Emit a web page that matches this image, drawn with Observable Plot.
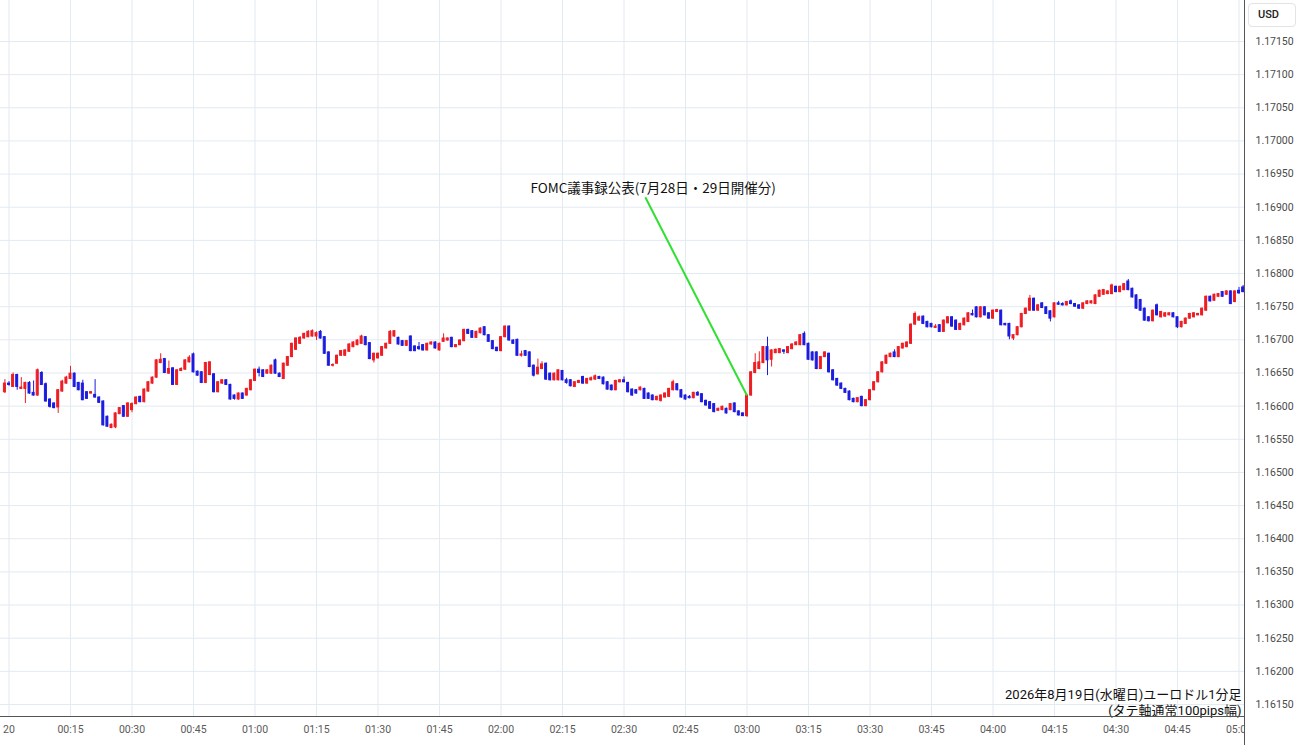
<!DOCTYPE html>
<html>
<head>
<meta charset="utf-8">
<script src="https://cdn.jsdelivr.net/npm/d3@7"></script>
<script src="https://cdn.jsdelivr.net/npm/@observablehq/plot@0.6"></script>
<style>
  html, body { margin: 0; padding: 0; background: #fff; }
  #wrap { position: relative; width: 1300px; height: 745px; overflow: hidden; background: #fff; }
  #wrap svg { position: absolute; left: 0; top: 0; }
  .usd { position: absolute; left: 1248px; top: 3px; width: 48px; height: 24px; box-sizing: border-box;
         border: 1px solid #e3e3e3; border-radius: 4px; font: 500 11px Roboto, sans-serif; color: #222;
         line-height: 22px; padding-left: 9px; background: #fff; }
</style>
</head>
<body>
<div id="wrap"><div class="usd">USD</div></div>
<script>
// EUR/USD 1-minute candles, 19 Aug 2026, first candle = 23:59 (minute -1), then one per minute to 05:01
const firstMinute = -1;

const open = [
1.16621,1.16634,1.16629,1.16647,1.16626,1.16626,1.16635,1.16620,1.16616,1.16650,
1.16633,1.16610,1.16604,1.16598,1.16622,1.16634,1.16641,1.16649,1.16635,1.16634,
1.16621,1.16619,1.16617,1.16613,1.16607,1.16584,1.16567,1.16568,1.16588,1.16600,
1.16584,1.16594,1.16603,1.16614,1.16606,1.16622,1.16634,1.16643,1.16665,1.16671,
1.16649,1.16657,1.16632,1.16653,1.16655,1.16666,1.16678,1.16652,1.16651,1.16635,
1.16647,1.16648,1.16621,1.16634,1.16639,1.16632,1.16616,1.16610,1.16619,1.16616,
1.16624,1.16638,1.16655,1.16654,1.16649,1.16649,1.16669,1.16649,1.16641,1.16661,
1.16674,1.16685,1.16694,1.16702,1.16704,1.16705,1.16705,1.16712,1.16704,1.16681,
1.16661,1.16664,1.16676,1.16676,1.16682,1.16689,1.16692,1.16694,1.16704,1.16695,
1.16669,1.16672,1.16676,1.16687,1.16694,1.16705,1.16703,1.16698,1.16691,1.16705,
1.16690,1.16689,1.16692,1.16684,1.16693,1.16696,1.16684,1.16697,1.16699,1.16703,
1.16689,1.16692,1.16698,1.16715,1.16713,1.16703,1.16710,1.16719,1.16707,1.16698,
1.16688,1.16683,1.16704,1.16720,1.16699,1.16700,1.16676,1.16683,1.16681,1.16661,
1.16648,1.16656,1.16664,1.16649,1.16639,1.16639,1.16653,1.16639,1.16639,1.16629,
1.16635,1.16644,1.16634,1.16639,1.16640,1.16644,1.16643,1.16636,1.16631,1.16624,
1.16636,1.16639,1.16635,1.16625,1.16624,1.16624,1.16626,1.16619,1.16616,1.16609,
1.16608,1.16613,1.16614,1.16624,1.16633,1.16624,1.16616,1.16614,1.16612,1.16620,
1.16618,1.16608,1.16606,1.16603,1.16593,1.16594,1.16596,1.16594,1.16604,1.16592,
1.16589,1.16585,1.16616,1.16650,1.16656,1.16665,1.16689,1.16670,1.16680,1.16680,
1.16684,1.16680,1.16686,1.16692,1.16692,1.16709,1.16694,1.16681,1.16681,1.16656,
1.16674,1.16679,1.16654,1.16641,1.16634,1.16626,1.16622,1.16611,1.16606,1.16614,
1.16600,1.16609,1.16624,1.16636,1.16651,1.16664,1.16674,1.16681,1.16674,1.16687,
1.16689,1.16694,1.16723,1.16729,1.16735,1.16727,1.16724,1.16718,1.16722,1.16712,
1.16725,1.16734,1.16729,1.16715,1.16722,1.16727,1.16739,1.16749,1.16734,1.16749,
1.16740,1.16732,1.16742,1.16744,1.16724,1.16724,1.16702,1.16707,1.16719,1.16739,
1.16744,1.16762,1.16744,1.16755,1.16749,1.16743,1.16734,1.16755,1.16754,1.16752,
1.16758,1.16754,1.16752,1.16747,1.16754,1.16755,1.16754,1.16765,1.16768,1.16769,
1.16769,1.16780,1.16772,1.16775,1.16788,1.16777,1.16767,1.16760,1.16747,1.16734,
1.16728,1.16752,1.16734,1.16735,1.16737,1.16740,1.16734,1.16719,1.16724,1.16732,
1.16734,1.16737,1.16737,1.16744,1.16765,1.16759,1.16765,1.16772,1.16768,1.16773,
1.16757,1.16774,1.16779
];

const high = [
1.16640,1.16637,1.16650,1.16648,1.16643,1.16636,1.16637,1.16638,1.16656,1.16652,
1.16635,1.16611,1.16605,1.16625,1.16639,1.16645,1.16660,1.16650,1.16636,1.16639,
1.16622,1.16622,1.16640,1.16614,1.16608,1.16585,1.16573,1.16590,1.16598,1.16601,
1.16605,1.16605,1.16614,1.16615,1.16626,1.16637,1.16644,1.16670,1.16679,1.16672,
1.16668,1.16658,1.16655,1.16658,1.16670,1.16676,1.16680,1.16653,1.16652,1.16666,
1.16667,1.16649,1.16637,1.16640,1.16640,1.16633,1.16617,1.16620,1.16620,1.16627,
1.16640,1.16656,1.16659,1.16655,1.16655,1.16662,1.16671,1.16650,1.16665,1.16675,
1.16695,1.16703,1.16705,1.16710,1.16714,1.16715,1.16712,1.16714,1.16705,1.16682,
1.16664,1.16677,1.16684,1.16685,1.16694,1.16697,1.16700,1.16707,1.16705,1.16696,
1.16680,1.16680,1.16690,1.16695,1.16714,1.16714,1.16704,1.16699,1.16699,1.16706,
1.16691,1.16696,1.16693,1.16695,1.16697,1.16697,1.16695,1.16709,1.16703,1.16704,
1.16693,1.16700,1.16716,1.16716,1.16714,1.16713,1.16718,1.16720,1.16708,1.16699,
1.16689,1.16705,1.16721,1.16721,1.16700,1.16701,1.16683,1.16684,1.16682,1.16662,
1.16671,1.16667,1.16665,1.16650,1.16650,1.16655,1.16654,1.16642,1.16640,1.16637,
1.16639,1.16645,1.16642,1.16644,1.16647,1.16645,1.16644,1.16637,1.16632,1.16639,
1.16640,1.16644,1.16636,1.16626,1.16625,1.16629,1.16627,1.16620,1.16617,1.16615,
1.16617,1.16620,1.16627,1.16639,1.16634,1.16625,1.16617,1.16616,1.16621,1.16622,
1.16619,1.16609,1.16607,1.16604,1.16597,1.16600,1.16597,1.16604,1.16605,1.16593,
1.16590,1.16616,1.16652,1.16679,1.16682,1.16690,1.16704,1.16685,1.16686,1.16687,
1.16685,1.16690,1.16694,1.16697,1.16708,1.16712,1.16695,1.16682,1.16682,1.16675,
1.16682,1.16680,1.16655,1.16642,1.16635,1.16627,1.16623,1.16612,1.16613,1.16615,
1.16610,1.16625,1.16637,1.16652,1.16667,1.16677,1.16680,1.16685,1.16690,1.16695,
1.16697,1.16724,1.16742,1.16736,1.16736,1.16728,1.16725,1.16723,1.16723,1.16730,
1.16735,1.16735,1.16730,1.16725,1.16733,1.16741,1.16745,1.16750,1.16750,1.16750,
1.16741,1.16745,1.16746,1.16745,1.16725,1.16725,1.16708,1.16720,1.16740,1.16748,
1.16767,1.16763,1.16753,1.16756,1.16750,1.16744,1.16756,1.16758,1.16756,1.16758,
1.16760,1.16755,1.16753,1.16756,1.16759,1.16759,1.16768,1.16775,1.16776,1.16774,
1.16784,1.16781,1.16781,1.16785,1.16791,1.16778,1.16768,1.16761,1.16748,1.16735,
1.16745,1.16754,1.16743,1.16741,1.16741,1.16741,1.16735,1.16728,1.16733,1.16740,
1.16741,1.16740,1.16748,1.16766,1.16766,1.16769,1.16770,1.16773,1.16774,1.16774,
1.16774,1.16779,1.16782
];

const low = [
1.16619,1.16630,1.16628,1.16624,1.16625,1.16604,1.16618,1.16615,1.16615,1.16631,
1.16606,1.16597,1.16596,1.16589,1.16621,1.16633,1.16640,1.16628,1.16623,1.16608,
1.16610,1.16618,1.16612,1.16604,1.16570,1.16568,1.16566,1.16566,1.16587,1.16583,
1.16583,1.16590,1.16602,1.16605,1.16605,1.16621,1.16633,1.16642,1.16664,1.16649,
1.16648,1.16631,1.16631,1.16652,1.16654,1.16665,1.16650,1.16645,1.16634,1.16634,
1.16646,1.16620,1.16620,1.16633,1.16631,1.16609,1.16609,1.16609,1.16610,1.16615,
1.16623,1.16637,1.16644,1.16643,1.16648,1.16648,1.16648,1.16643,1.16640,1.16660,
1.16673,1.16684,1.16693,1.16701,1.16703,1.16704,1.16699,1.16701,1.16678,1.16660,
1.16659,1.16663,1.16675,1.16675,1.16681,1.16688,1.16691,1.16693,1.16691,1.16670,
1.16665,1.16671,1.16675,1.16686,1.16693,1.16704,1.16692,1.16690,1.16690,1.16682,
1.16682,1.16684,1.16683,1.16683,1.16692,1.16686,1.16683,1.16696,1.16698,1.16688,
1.16688,1.16691,1.16697,1.16708,1.16702,1.16702,1.16709,1.16706,1.16696,1.16685,
1.16682,1.16682,1.16703,1.16698,1.16693,1.16675,1.16674,1.16675,1.16658,1.16644,
1.16647,1.16655,1.16639,1.16638,1.16638,1.16638,1.16638,1.16633,1.16629,1.16628,
1.16634,1.16633,1.16633,1.16638,1.16639,1.16640,1.16632,1.16624,1.16623,1.16623,
1.16635,1.16635,1.16620,1.16615,1.16618,1.16623,1.16610,1.16610,1.16608,1.16608,
1.16606,1.16612,1.16613,1.16623,1.16623,1.16612,1.16609,1.16611,1.16611,1.16615,
1.16605,1.16600,1.16595,1.16590,1.16592,1.16593,1.16588,1.16593,1.16590,1.16585,
1.16584,1.16583,1.16615,1.16649,1.16655,1.16664,1.16646,1.16659,1.16679,1.16679,
1.16678,1.16679,1.16685,1.16691,1.16691,1.16691,1.16669,1.16668,1.16655,1.16655,
1.16673,1.16650,1.16638,1.16630,1.16625,1.16619,1.16608,1.16605,1.16605,1.16599,
1.16599,1.16608,1.16623,1.16635,1.16650,1.16663,1.16673,1.16673,1.16673,1.16686,
1.16688,1.16693,1.16722,1.16728,1.16723,1.16718,1.16718,1.16717,1.16711,1.16711,
1.16724,1.16719,1.16714,1.16714,1.16721,1.16726,1.16736,1.16733,1.16733,1.16736,
1.16731,1.16731,1.16741,1.16721,1.16721,1.16700,1.16699,1.16706,1.16718,1.16738,
1.16743,1.16743,1.16743,1.16747,1.16738,1.16727,1.16733,1.16752,1.16751,1.16751,
1.16753,1.16749,1.16746,1.16746,1.16753,1.16754,1.16753,1.16764,1.16767,1.16768,
1.16768,1.16771,1.16771,1.16774,1.16774,1.16763,1.16746,1.16743,1.16728,1.16727,
1.16727,1.16736,1.16733,1.16734,1.16736,1.16733,1.16717,1.16718,1.16723,1.16731,
1.16733,1.16736,1.16736,1.16743,1.16757,1.16758,1.16764,1.16764,1.16767,1.16753,
1.16756,1.16769,1.16771
];

const close = [
1.16634,1.16632,1.16647,1.16629,1.16628,1.16635,1.16619,1.16616,1.16654,1.16632,
1.16607,1.16599,1.16597,1.16624,1.16637,1.16643,1.16649,1.16629,1.16624,1.16609,
1.16611,1.16621,1.16613,1.16605,1.16571,1.16569,1.16572,1.16589,1.16597,1.16584,
1.16604,1.16603,1.16613,1.16606,1.16625,1.16636,1.16643,1.16669,1.16670,1.16650,
1.16656,1.16632,1.16654,1.16656,1.16669,1.16673,1.16651,1.16646,1.16635,1.16665,
1.16666,1.16621,1.16636,1.16639,1.16632,1.16610,1.16611,1.16619,1.16611,1.16626,
1.16639,1.16655,1.16650,1.16644,1.16654,1.16661,1.16649,1.16644,1.16664,1.16674,
1.16694,1.16702,1.16703,1.16709,1.16712,1.16713,1.16710,1.16702,1.16679,1.16661,
1.16662,1.16676,1.16683,1.16684,1.16693,1.16696,1.16699,1.16705,1.16692,1.16671,
1.16679,1.16679,1.16689,1.16694,1.16712,1.16713,1.16693,1.16691,1.16698,1.16683,
1.16683,1.16686,1.16684,1.16694,1.16696,1.16687,1.16694,1.16702,1.16702,1.16689,
1.16692,1.16699,1.16715,1.16709,1.16703,1.16712,1.16717,1.16707,1.16697,1.16686,
1.16683,1.16704,1.16720,1.16699,1.16694,1.16676,1.16678,1.16676,1.16659,1.16646,
1.16658,1.16663,1.16640,1.16639,1.16649,1.16654,1.16639,1.16635,1.16630,1.16636,
1.16638,1.16634,1.16641,1.16642,1.16645,1.16641,1.16633,1.16625,1.16624,1.16638,
1.16639,1.16636,1.16621,1.16616,1.16619,1.16628,1.16611,1.16611,1.16609,1.16614,
1.16616,1.16619,1.16626,1.16636,1.16624,1.16613,1.16610,1.16612,1.16620,1.16616,
1.16606,1.16601,1.16596,1.16591,1.16596,1.16599,1.16589,1.16603,1.16591,1.16586,
1.16585,1.16616,1.16651,1.16665,1.16666,1.16689,1.16669,1.16684,1.16685,1.16686,
1.16682,1.16689,1.16693,1.16696,1.16707,1.16692,1.16670,1.16669,1.16656,1.16674,
1.16681,1.16651,1.16639,1.16631,1.16626,1.16620,1.16609,1.16606,1.16612,1.16600,
1.16609,1.16624,1.16636,1.16651,1.16666,1.16676,1.16679,1.16674,1.16689,1.16694,
1.16696,1.16723,1.16739,1.16734,1.16724,1.16719,1.16719,1.16720,1.16712,1.16729,
1.16734,1.16720,1.16715,1.16724,1.16732,1.16740,1.16737,1.16734,1.16749,1.16737,
1.16732,1.16744,1.16745,1.16722,1.16722,1.16705,1.16707,1.16719,1.16739,1.16747,
1.16762,1.16744,1.16752,1.16748,1.16739,1.16732,1.16755,1.16753,1.16752,1.16757,
1.16754,1.16750,1.16747,1.16755,1.16758,1.16758,1.16767,1.16774,1.16775,1.16773,
1.16782,1.16772,1.16780,1.16784,1.16775,1.16764,1.16747,1.16744,1.16729,1.16728,
1.16744,1.16737,1.16742,1.16740,1.16740,1.16734,1.16719,1.16727,1.16732,1.16739,
1.16740,1.16739,1.16747,1.16765,1.16758,1.16768,1.16769,1.16765,1.16773,1.16754,
1.16773,1.16770,1.16772
];

// Axis ticks (minutes after 00:00, and price levels)
const xTickMinutes = [0,15,30,45,60,75,90,105,120,135,150,165,180,195,210,225,240,255,270,285,300];
const xTickLabels = ["20","00:15","00:30","00:45","01:00","01:15","01:30","01:45","02:00","02:15","02:30","02:45","03:00","03:15","03:30","03:45","04:00","04:15","04:30","04:45","05:00"];
const yTickPrices = [1.16150,1.16200,1.16250,1.16300,1.16350,1.16400,1.16450,1.16500,1.16550,1.16600,1.16650,1.16700,1.16750,1.16800,1.16850,1.16900,1.16950,1.17000,1.17050,1.17100,1.17150];

// Annotation
const noteText = "FOMC議事録公表(7月28日・29日開催分)";
const noteLabelMinute = 157.1, noteLabelPrice = 1.16928;
const noteLineMinute = 155.2, noteLinePrice = 1.16915;
const noteEventMinute = 180;

const captionLines = ["2026年8月19日(水曜日)ユーロドル1分足", "(タテ軸通常100pips幅)"];

const upColor = "#ee1d23", downColor = "#1c1ce0", gridColor = "#e2eaf2";
const xDomain = [-2.073, 301.34];
const yDomain = [1.161319, 1.172118];

const n = Math.min(open.length, high.length, low.length, close.length);
const candles = [];
for (let i = 0; i < n; i++) {
  candles.push({t: firstMinute + i, open: open[i], high: high[i], low: low[i], close: close[i],
                color: close[i] >= open[i] ? upColor : downColor});
}
const eventCandle = candles.find(d => d.t === noteEventMinute);
const note = [{x1: noteLineMinute, y1: noteLinePrice, x2: noteEventMinute, y2: eventCandle.high}];
const labelByMinute = new Map(xTickMinutes.map((m, i) => [m, xTickLabels[i]]));

const captionStyle = {frameAnchor: "bottom-right", textAnchor: "end", lineAnchor: "bottom", fill: "#111",
                      fontFamily: "Roboto, 'Noto Sans CJK JP', sans-serif", fontSize: 13, dx: -3};

const chart = Plot.plot({
  width: 1300,
  height: 745,
  marginLeft: 0,
  marginRight: 56,
  marginTop: 0,
  marginBottom: 29,
  style: {fontFamily: "Roboto, sans-serif", fontSize: "10.5px", background: "#fff", color: "#555"},
  x: {domain: xDomain, label: null},
  y: {domain: yDomain, label: null},
  color: {type: "identity"},
  marks: [
    Plot.gridX(xTickMinutes, {stroke: gridColor, strokeOpacity: 1}),
    Plot.gridY(yTickPrices, {stroke: gridColor, strokeOpacity: 1}),
    Plot.ruleX(candles, {x: "t", y1: "low", y2: "high", stroke: "color", strokeWidth: 1}),
    Plot.rect(candles, {x1: d => d.t - 0.24, x2: d => d.t + 0.24, y1: "open", y2: "close",
                        fill: "color", stroke: "color", strokeWidth: 1}),
    Plot.link(note, {x1: "x1", y1: "y1", x2: "x2", y2: "y2", stroke: "#30e030", strokeWidth: 2}),
    Plot.text([noteText], {x: noteLabelMinute, y: noteLabelPrice, text: d => d, fill: "#111",
                           fontFamily: "'Noto Sans CJK JP', sans-serif", fontSize: 13.5}),
    Plot.text([captionLines[0]], {...captionStyle, text: d => d, dy: -17.5}),
    Plot.text([captionLines[1]], {...captionStyle, text: d => d, dy: -1.5}),
    Plot.ruleY([yDomain[0]], {stroke: "#555", strokeWidth: 1}),
    Plot.ruleX([xDomain[1]], {stroke: "#555", strokeWidth: 1, insetBottom: -29}),
    Plot.axisX({ticks: xTickMinutes, tickFormat: d => labelByMinute.get(d), tickSize: 0, tickPadding: 9,
                label: null, fill: "#5a5a5a"}),
    Plot.axisY({ticks: yTickPrices, anchor: "right", tickFormat: d3.format(".5f"), tickSize: 0, tickPadding: 11,
                label: null, fill: "#4a4a4a"})
  ]
});

document.getElementById("wrap").insertBefore(chart, document.querySelector(".usd"));

// clip x tick labels at the price-axis border (the 05:00 label is cut off)
const svg = d3.select(chart);
const xs = chart.scale("x");
const rightEdge = xs.apply(xDomain[1]);
svg.append("defs").append("clipPath").attr("id", "xlabelclip")
  .append("rect").attr("x", -10).attr("y", 0).attr("width", rightEdge + 10).attr("height", 745);
svg.selectAll('g[aria-label="x-axis tick label"]').attr("clip-path", "url(#xlabelclip)");
</script>
</body>
</html>
